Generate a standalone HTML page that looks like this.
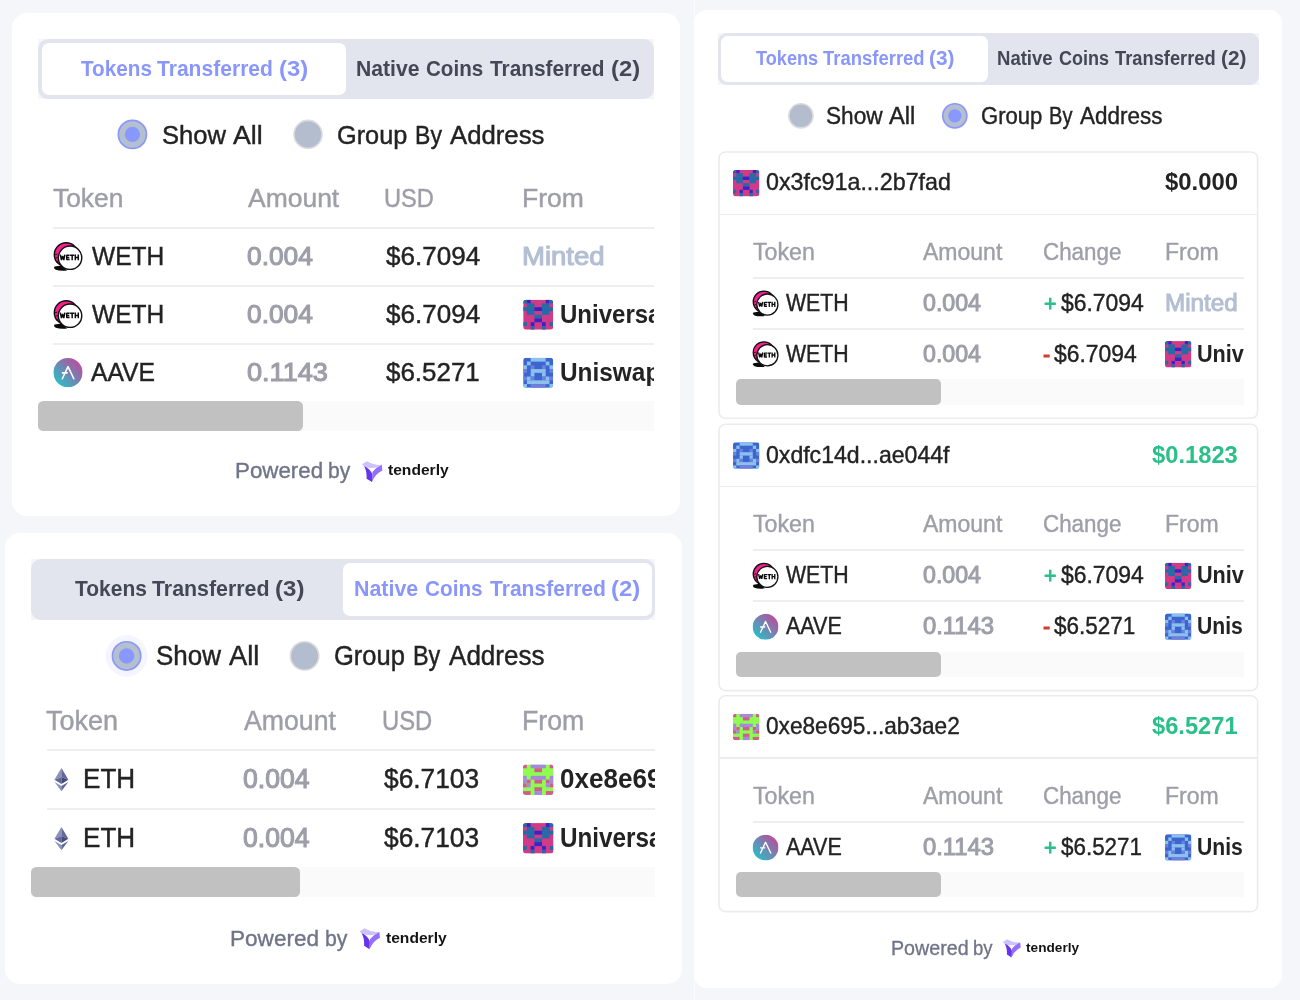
<!DOCTYPE html>
<html><head><meta charset="utf-8"><title>Transfers</title>
<style>
html,body{margin:0;padding:0}
body{width:1300px;height:1000px;background:#f4f6fa;position:relative;overflow:hidden;font-family:'Liberation Sans', sans-serif}
#root{position:absolute;left:0;top:0;width:1300px;height:1000px;overflow:hidden}
#root>div,#root>svg,.t,#txt>div{position:absolute}
#txt{left:0;top:0;width:1300px;height:1000px;will-change:transform}
.t{white-space:pre;transform-origin:0 0;display:block}
.clip{overflow:hidden}
</style></head>
<body>
<svg width="0" height="0" style="position:absolute"><defs>
<linearGradient id="aaveg" x1="0.15" y1="0.85" x2="0.85" y2="0.15"><stop offset="0" stop-color="#2ebac6"/><stop offset="1" stop-color="#b6509e"/></linearGradient>
<symbol id="weth" viewBox="0 0 1000 1000">
<path d="M165 765 Q125 805 195 845 Q310 885 480 862 L335 735 Z" fill="#0a0a0a"/>
<circle cx="455" cy="466" r="298" fill="#f5208b" stroke="#0d0d0d" stroke-width="34"/>
<path d="M172 470 L232 455 M182 560 L242 535 M212 650 L268 610" stroke="#0d0d0d" stroke-width="22" fill="none"/>
<circle cx="551" cy="542" r="293" fill="#fff" stroke="#111" stroke-width="36"/>
<path d="M308 466 L336 600 L365 500 L394 600 L422 466 M540 482 H468 V590 H540 M468 536 H532 M552 482 H655 M604 482 V608 M683 464 V608 M757 464 V608 M683 536 H757" stroke="#0b0b0b" stroke-width="37" fill="none" stroke-linejoin="bevel"/>
</symbol>
<symbol id="aave" viewBox="0 0 100 100">
<circle cx="50" cy="50" r="50" fill="url(#aaveg)"/>
<path d="M30.5 71 L50 29.5 L70 71 M31 51 L47 51" stroke="#fff" stroke-width="5.4" fill="none" stroke-linecap="round" stroke-linejoin="round"/>
</symbol>
<symbol id="eth" viewBox="0 0 1000 1000">
<path d="M510 228 L335 520 L510 450 Z" fill="#8a92b8"/>
<path d="M510 228 L685 520 L510 450 Z" fill="#62689a"/>
<path d="M335 520 L510 450 L510 625 Z" fill="#62689a"/>
<path d="M685 520 L510 450 L510 625 Z" fill="#454a7c"/>
<path d="M340 572 L510 672 L510 808 Z" fill="#8a92b8"/>
<path d="M682 572 L510 672 L510 808 Z" fill="#62689a"/>
</symbol>
<symbol id="tly" viewBox="0 0 1000 1000">
<path d="M135 245 L300 140 Q520 275 792 262 L640 345 Q430 405 210 305 Z" fill="#cdc2fd"/>
<path d="M205 300 Q410 385 482 585 L470 832 L290 722 Q305 480 205 300 Z" fill="#6633ee"/>
<path d="M796 262 L815 450 Q580 560 468 832 L484 500 Q600 350 796 262 Z" fill="#9370fc"/>
</symbol>
</defs></svg>
<div id="root">
<div style="left:12.00px;top:13.00px;width:668.00px;height:503.30px;background:#fff;border-radius:15px;"></div>
<div style="left:38.00px;top:39.00px;width:616.00px;height:59.70px;background:#f4f6fa;"></div>
<div style="left:38.00px;top:39.00px;width:616.00px;height:59.70px;background:#e2e5ed;border-radius:10px;"></div>
<div style="left:42.00px;top:43.00px;width:304.00px;height:52.00px;background:#fff;border-radius:7px;"></div>
<svg style="left:115px;top:117px" width="35" height="35"><g transform="translate(1.50 1.50)"><circle cx="15.9" cy="15.9" r="14.9" fill="#8a97fd"/><circle cx="15.9" cy="15.9" r="13.20" fill="#b4bfd0"/><circle cx="15.9" cy="15.9" r="7.67" fill="#8998fd"/></g></svg>
<svg style="left:291px;top:117px" width="34" height="35"><g transform="translate(1.20 1.60)"><circle cx="15.8" cy="15.8" r="14.8" fill="#dcdcde"/><circle cx="15.8" cy="15.8" r="13.20" fill="#b4bdce"/></g></svg>
<div style="left:53.00px;top:227.00px;width:601.00px;height:1.90px;background:#eeeeef;"></div>
<div style="left:53.00px;top:285.00px;width:601.00px;height:1.90px;background:#eeeeef;"></div>
<div style="left:53.00px;top:343.00px;width:601.00px;height:1.90px;background:#eeeeef;"></div>
<svg style="left:47px;top:235px" width="42" height="42"><g transform="translate(1.00 1.00)"><use href="#weth" width="40.00" height="40.00"/></g></svg>
<svg style="left:47px;top:293px" width="42" height="42"><g transform="translate(1.00 1.00)"><use href="#weth" width="40.00" height="40.00"/></g></svg>
<svg style="left:52px;top:357px" width="32" height="32"><g transform="translate(1.40 1.00)"><use href="#aave" width="29.20" height="29.20"/></g></svg>
<svg style="left:522px;top:298px" width="33" height="33"><g transform="translate(1.20 1.70)"><clipPath id="ic1"><rect width="8" height="8" rx="0.85"/></clipPath><g transform="scale(3.7500)" clip-path="url(#ic1)"><rect width="8" height="8" fill="#d13a86"/><rect x="0" y="0" width="1" height="1.02" fill="#246ca8"/><rect x="1" y="0" width="1" height="1.02" fill="#3a22c8"/><rect x="6" y="0" width="1" height="1.02" fill="#3a22c8"/><rect x="7" y="0" width="1" height="1.02" fill="#246ca8"/><rect x="1" y="1" width="2" height="1.02" fill="#246ca8"/><rect x="5" y="1" width="2" height="1.02" fill="#246ca8"/><rect x="0" y="2" width="3" height="1.02" fill="#246ca8"/><rect x="3" y="2" width="2" height="1.02" fill="#3a22c8"/><rect x="5" y="2" width="3" height="1.02" fill="#246ca8"/><rect x="1" y="3" width="2" height="1.02" fill="#246ca8"/><rect x="5" y="3" width="2" height="1.02" fill="#246ca8"/><rect x="3" y="4" width="2" height="1.02" fill="#246ca8"/><rect x="3" y="5" width="2" height="1.02" fill="#3a22c8"/><rect x="0" y="6" width="1" height="1.02" fill="#246ca8"/><rect x="2" y="6" width="1" height="1.02" fill="#3a22c8"/><rect x="5" y="6" width="1" height="1.02" fill="#3a22c8"/><rect x="7" y="6" width="1" height="1.02" fill="#246ca8"/><rect x="2" y="7" width="1" height="1.02" fill="#246ca8"/><rect x="5" y="7" width="1" height="1.02" fill="#246ca8"/></g></g></svg>
<svg style="left:522px;top:356px" width="33" height="33"><g transform="translate(1.20 1.80)"><clipPath id="ic2"><rect width="8" height="8" rx="0.85"/></clipPath><g transform="scale(3.7500)" clip-path="url(#ic2)"><rect width="8" height="8" fill="#3b66d2"/><rect x="2" y="0" width="4" height="1.02" fill="#8bc1ec"/><rect x="1" y="1" width="1" height="1.02" fill="#8bc1ec"/><rect x="6" y="1" width="1" height="1.02" fill="#8bc1ec"/><rect x="0" y="2" width="1" height="1.02" fill="#8bc1ec"/><rect x="2" y="2" width="1" height="1.02" fill="#6e7fdc"/><rect x="5" y="2" width="1" height="1.02" fill="#6e7fdc"/><rect x="7" y="2" width="1" height="1.02" fill="#8bc1ec"/><rect x="0" y="3" width="1" height="1.02" fill="#6e7fdc"/><rect x="2" y="3" width="4" height="1.02" fill="#8bc1ec"/><rect x="7" y="3" width="1" height="1.02" fill="#6e7fdc"/><rect x="2" y="4" width="1" height="1.02" fill="#8bc1ec"/><rect x="5" y="4" width="1" height="1.02" fill="#8bc1ec"/><rect x="0" y="5" width="1" height="1.02" fill="#6e7fdc"/><rect x="1" y="5" width="1" height="1.02" fill="#8bc1ec"/><rect x="2" y="5" width="1" height="1.02" fill="#6e7fdc"/><rect x="5" y="5" width="1" height="1.02" fill="#6e7fdc"/><rect x="6" y="5" width="1" height="1.02" fill="#8bc1ec"/><rect x="7" y="5" width="1" height="1.02" fill="#6e7fdc"/><rect x="1" y="6" width="6" height="1.02" fill="#8bc1ec"/><rect x="0" y="7" width="1" height="1.02" fill="#8bc1ec"/><rect x="2" y="7" width="4" height="1.02" fill="#6e7fdc"/><rect x="7" y="7" width="1" height="1.02" fill="#8bc1ec"/></g></g></svg>
<div style="left:38.00px;top:401.00px;width:616.00px;height:29.60px;background:#fafafa;"></div>
<div style="left:38.00px;top:401.00px;width:265.00px;height:29.60px;background:#c1c1c1;border-radius:5.5px;"></div>
<svg style="left:356px;top:456px" width="33" height="32"><g transform="translate(1.90 1.00)"><use href="#tly" width="30.00" height="30.00"/></g></svg>
<div style="left:5.00px;top:533.00px;width:677.00px;height:451.00px;background:#fff;border-radius:15px;"></div>
<div style="left:31.00px;top:559.00px;width:624.00px;height:61.00px;background:#f4f6fa;"></div>
<div style="left:31.00px;top:559.00px;width:624.00px;height:61.00px;background:#e2e5ed;border-radius:10px;"></div>
<div style="left:343.00px;top:562.70px;width:308.60px;height:53.70px;background:#fff;border-radius:7px;"></div>
<svg style="left:103px;top:633px" width="47" height="46"><g transform="translate(1.80 1.10)"><circle cx="21.8" cy="21.8" r="20.8" fill="#f4f5ff"/><circle cx="21.8" cy="21.8" r="15" fill="#8a97fd"/><circle cx="21.8" cy="21.8" r="13.30" fill="#b4bfd0"/><circle cx="21.8" cy="21.8" r="7.73" fill="#8998fd"/></g></svg>
<svg style="left:287px;top:638px" width="35" height="35"><g transform="translate(1.60 1.90)"><circle cx="16" cy="16" r="15" fill="#dcdcde"/><circle cx="16" cy="16" r="13.40" fill="#b4bdce"/></g></svg>
<div style="left:46.50px;top:749.00px;width:608.50px;height:1.90px;background:#eeeeef;"></div>
<div style="left:46.50px;top:808.30px;width:608.50px;height:1.90px;background:#eeeeef;"></div>
<svg style="left:40px;top:758px" width="42" height="42"><g transform="translate(1.00 1.00)"><use href="#eth" width="40.00" height="40.00"/></g></svg>
<svg style="left:40px;top:817px" width="42" height="42"><g transform="translate(1.00 1.00)"><use href="#eth" width="40.00" height="40.00"/></g></svg>
<svg style="left:522px;top:763px" width="33" height="33"><g transform="translate(1.00 1.40)"><clipPath id="ic3"><rect width="8" height="8" rx="0.85"/></clipPath><g transform="scale(3.8125)" clip-path="url(#ic3)"><rect width="8" height="8" fill="#8ffc50"/><rect x="0" y="0" width="1" height="1.02" fill="#cf5d8d"/><rect x="2" y="0" width="4" height="1.02" fill="#a688e0"/><rect x="7" y="0" width="1" height="1.02" fill="#cf5d8d"/><rect x="3" y="1" width="2" height="1.02" fill="#cf5d8d"/><rect x="0" y="3" width="1" height="1.02" fill="#a688e0"/><rect x="2" y="3" width="4" height="1.02" fill="#a688e0"/><rect x="7" y="3" width="1" height="1.02" fill="#a688e0"/><rect x="0" y="4" width="1" height="1.02" fill="#a688e0"/><rect x="1" y="4" width="1" height="1.02" fill="#cf5d8d"/><rect x="3" y="4" width="2" height="1.02" fill="#cf5d8d"/><rect x="6" y="4" width="1" height="1.02" fill="#cf5d8d"/><rect x="7" y="4" width="1" height="1.02" fill="#a688e0"/><rect x="0" y="5" width="1" height="1.02" fill="#cf5d8d"/><rect x="1" y="5" width="1" height="1.02" fill="#a688e0"/><rect x="6" y="5" width="1" height="1.02" fill="#a688e0"/><rect x="7" y="5" width="1" height="1.02" fill="#cf5d8d"/><rect x="3" y="6" width="2" height="1.02" fill="#cf5d8d"/><rect x="0" y="7" width="2" height="1.02" fill="#cf5d8d"/><rect x="3" y="7" width="2" height="1.02" fill="#a688e0"/><rect x="6" y="7" width="2" height="1.02" fill="#cf5d8d"/></g></g></svg>
<svg style="left:522px;top:822px" width="33" height="33"><g transform="translate(1.00 1.10)"><clipPath id="ic4"><rect width="8" height="8" rx="0.85"/></clipPath><g transform="scale(3.8125)" clip-path="url(#ic4)"><rect width="8" height="8" fill="#d13a86"/><rect x="0" y="0" width="1" height="1.02" fill="#246ca8"/><rect x="1" y="0" width="1" height="1.02" fill="#3a22c8"/><rect x="6" y="0" width="1" height="1.02" fill="#3a22c8"/><rect x="7" y="0" width="1" height="1.02" fill="#246ca8"/><rect x="1" y="1" width="2" height="1.02" fill="#246ca8"/><rect x="5" y="1" width="2" height="1.02" fill="#246ca8"/><rect x="0" y="2" width="3" height="1.02" fill="#246ca8"/><rect x="3" y="2" width="2" height="1.02" fill="#3a22c8"/><rect x="5" y="2" width="3" height="1.02" fill="#246ca8"/><rect x="1" y="3" width="2" height="1.02" fill="#246ca8"/><rect x="5" y="3" width="2" height="1.02" fill="#246ca8"/><rect x="3" y="4" width="2" height="1.02" fill="#246ca8"/><rect x="3" y="5" width="2" height="1.02" fill="#3a22c8"/><rect x="0" y="6" width="1" height="1.02" fill="#246ca8"/><rect x="2" y="6" width="1" height="1.02" fill="#3a22c8"/><rect x="5" y="6" width="1" height="1.02" fill="#3a22c8"/><rect x="7" y="6" width="1" height="1.02" fill="#246ca8"/><rect x="2" y="7" width="1" height="1.02" fill="#246ca8"/><rect x="5" y="7" width="1" height="1.02" fill="#246ca8"/></g></g></svg>
<div style="left:31.00px;top:866.80px;width:624.00px;height:30.20px;background:#fafafa;"></div>
<div style="left:31.00px;top:866.80px;width:269.00px;height:30.20px;background:#c1c1c1;border-radius:5.5px;"></div>
<svg style="left:354px;top:923px" width="33" height="33"><g transform="translate(1.38 1.08)"><use href="#tly" width="30.14" height="30.14"/></g></svg>
<div style="left:694.00px;top:0.00px;width:1.00px;height:1000.00px;background:#fafbfd;"></div>
<div style="left:694.30px;top:10.00px;width:587.50px;height:978.00px;background:#fff;border-radius:13px;"></div>
<div style="left:718.00px;top:33.00px;width:540.60px;height:52.00px;background:#f4f6fa;"></div>
<div style="left:718.00px;top:33.00px;width:540.60px;height:52.00px;background:#e2e5ed;border-radius:9px;"></div>
<div style="left:721.30px;top:36.20px;width:267.20px;height:45.60px;background:#fff;border-radius:6.5px;"></div>
<svg style="left:786px;top:100px" width="30" height="31"><g transform="translate(1.00 1.90)"><circle cx="13.9" cy="13.9" r="12.9" fill="#dcdcde"/><circle cx="13.9" cy="13.9" r="11.30" fill="#b4bdce"/></g></svg>
<svg style="left:939px;top:100px" width="31" height="31"><g transform="translate(1.90 1.90)"><circle cx="13.9" cy="13.9" r="12.9" fill="#8a97fd"/><circle cx="13.9" cy="13.9" r="11.20" fill="#b4bfd0"/><circle cx="13.9" cy="13.9" r="6.64" fill="#8998fd"/></g></svg>
<svg style="left:717px;top:150px" width="543" height="271"><g transform="translate(1.00 1.00)"><rect x="1" y="1" width="538.6" height="266.30" rx="6.5" fill="#fff" stroke="#ececee" stroke-width="1.6"/></g></svg>
<svg style="left:732px;top:169px" width="29" height="29"><g transform="translate(1.00 1.00)"><clipPath id="ic5"><rect width="8" height="8" rx="0.85"/></clipPath><g transform="scale(3.3000)" clip-path="url(#ic5)"><rect width="8" height="8" fill="#d13a86"/><rect x="0" y="0" width="1" height="1.02" fill="#246ca8"/><rect x="1" y="0" width="1" height="1.02" fill="#3a22c8"/><rect x="6" y="0" width="1" height="1.02" fill="#3a22c8"/><rect x="7" y="0" width="1" height="1.02" fill="#246ca8"/><rect x="1" y="1" width="2" height="1.02" fill="#246ca8"/><rect x="5" y="1" width="2" height="1.02" fill="#246ca8"/><rect x="0" y="2" width="3" height="1.02" fill="#246ca8"/><rect x="3" y="2" width="2" height="1.02" fill="#3a22c8"/><rect x="5" y="2" width="3" height="1.02" fill="#246ca8"/><rect x="1" y="3" width="2" height="1.02" fill="#246ca8"/><rect x="5" y="3" width="2" height="1.02" fill="#246ca8"/><rect x="3" y="4" width="2" height="1.02" fill="#246ca8"/><rect x="3" y="5" width="2" height="1.02" fill="#3a22c8"/><rect x="0" y="6" width="1" height="1.02" fill="#246ca8"/><rect x="2" y="6" width="1" height="1.02" fill="#3a22c8"/><rect x="5" y="6" width="1" height="1.02" fill="#3a22c8"/><rect x="7" y="6" width="1" height="1.02" fill="#246ca8"/><rect x="2" y="7" width="1" height="1.02" fill="#246ca8"/><rect x="5" y="7" width="1" height="1.02" fill="#246ca8"/></g></g></svg>
<div style="left:720.00px;top:213.60px;width:536.60px;height:1.50px;background:#ececee;"></div>
<div style="left:752.60px;top:277.00px;width:491.40px;height:1.90px;background:#eeeeef;"></div>
<svg style="left:746px;top:284px" width="39" height="39"><g transform="translate(1.56 1.04)"><use href="#weth" width="35.97" height="35.97"/></g></svg>
<div style="left:752.60px;top:328.00px;width:491.40px;height:1.90px;background:#eeeeef;"></div>
<svg style="left:746px;top:334px" width="39" height="39"><g transform="translate(1.56 1.74)"><use href="#weth" width="35.97" height="35.97"/></g></svg>
<svg style="left:1164px;top:340px" width="29" height="29"><g transform="translate(1.00 1.10)"><clipPath id="ic6"><rect width="8" height="8" rx="0.85"/></clipPath><g transform="scale(3.3000)" clip-path="url(#ic6)"><rect width="8" height="8" fill="#d13a86"/><rect x="0" y="0" width="1" height="1.02" fill="#246ca8"/><rect x="1" y="0" width="1" height="1.02" fill="#3a22c8"/><rect x="6" y="0" width="1" height="1.02" fill="#3a22c8"/><rect x="7" y="0" width="1" height="1.02" fill="#246ca8"/><rect x="1" y="1" width="2" height="1.02" fill="#246ca8"/><rect x="5" y="1" width="2" height="1.02" fill="#246ca8"/><rect x="0" y="2" width="3" height="1.02" fill="#246ca8"/><rect x="3" y="2" width="2" height="1.02" fill="#3a22c8"/><rect x="5" y="2" width="3" height="1.02" fill="#246ca8"/><rect x="1" y="3" width="2" height="1.02" fill="#246ca8"/><rect x="5" y="3" width="2" height="1.02" fill="#246ca8"/><rect x="3" y="4" width="2" height="1.02" fill="#246ca8"/><rect x="3" y="5" width="2" height="1.02" fill="#3a22c8"/><rect x="0" y="6" width="1" height="1.02" fill="#246ca8"/><rect x="2" y="6" width="1" height="1.02" fill="#3a22c8"/><rect x="5" y="6" width="1" height="1.02" fill="#3a22c8"/><rect x="7" y="6" width="1" height="1.02" fill="#246ca8"/><rect x="2" y="7" width="1" height="1.02" fill="#246ca8"/><rect x="5" y="7" width="1" height="1.02" fill="#246ca8"/></g></g></svg>
<div style="left:736.20px;top:379.20px;width:507.80px;height:25.60px;background:#fafafa;"></div>
<div style="left:736.20px;top:379.20px;width:205.00px;height:25.60px;background:#c1c1c1;border-radius:5px;"></div>
<svg style="left:717px;top:422px" width="543" height="271"><g transform="translate(1.00 1.30)"><rect x="1" y="1" width="538.6" height="266.30" rx="6.5" fill="#fff" stroke="#ececee" stroke-width="1.6"/></g></svg>
<svg style="left:732px;top:441px" width="29" height="29"><g transform="translate(1.00 1.30)"><clipPath id="ic7"><rect width="8" height="8" rx="0.85"/></clipPath><g transform="scale(3.3000)" clip-path="url(#ic7)"><rect width="8" height="8" fill="#3b66d2"/><rect x="2" y="0" width="4" height="1.02" fill="#8bc1ec"/><rect x="1" y="1" width="1" height="1.02" fill="#8bc1ec"/><rect x="6" y="1" width="1" height="1.02" fill="#8bc1ec"/><rect x="0" y="2" width="1" height="1.02" fill="#8bc1ec"/><rect x="2" y="2" width="1" height="1.02" fill="#6e7fdc"/><rect x="5" y="2" width="1" height="1.02" fill="#6e7fdc"/><rect x="7" y="2" width="1" height="1.02" fill="#8bc1ec"/><rect x="0" y="3" width="1" height="1.02" fill="#6e7fdc"/><rect x="2" y="3" width="4" height="1.02" fill="#8bc1ec"/><rect x="7" y="3" width="1" height="1.02" fill="#6e7fdc"/><rect x="2" y="4" width="1" height="1.02" fill="#8bc1ec"/><rect x="5" y="4" width="1" height="1.02" fill="#8bc1ec"/><rect x="0" y="5" width="1" height="1.02" fill="#6e7fdc"/><rect x="1" y="5" width="1" height="1.02" fill="#8bc1ec"/><rect x="2" y="5" width="1" height="1.02" fill="#6e7fdc"/><rect x="5" y="5" width="1" height="1.02" fill="#6e7fdc"/><rect x="6" y="5" width="1" height="1.02" fill="#8bc1ec"/><rect x="7" y="5" width="1" height="1.02" fill="#6e7fdc"/><rect x="1" y="6" width="6" height="1.02" fill="#8bc1ec"/><rect x="0" y="7" width="1" height="1.02" fill="#8bc1ec"/><rect x="2" y="7" width="4" height="1.02" fill="#6e7fdc"/><rect x="7" y="7" width="1" height="1.02" fill="#8bc1ec"/></g></g></svg>
<div style="left:720.00px;top:485.90px;width:536.60px;height:1.50px;background:#ececee;"></div>
<div style="left:752.60px;top:549.30px;width:491.40px;height:1.90px;background:#eeeeef;"></div>
<svg style="left:746px;top:556px" width="39" height="39"><g transform="translate(1.56 1.34)"><use href="#weth" width="35.97" height="35.97"/></g></svg>
<svg style="left:1164px;top:561px" width="29" height="30"><g transform="translate(1.00 1.70)"><clipPath id="ic8"><rect width="8" height="8" rx="0.85"/></clipPath><g transform="scale(3.3000)" clip-path="url(#ic8)"><rect width="8" height="8" fill="#d13a86"/><rect x="0" y="0" width="1" height="1.02" fill="#246ca8"/><rect x="1" y="0" width="1" height="1.02" fill="#3a22c8"/><rect x="6" y="0" width="1" height="1.02" fill="#3a22c8"/><rect x="7" y="0" width="1" height="1.02" fill="#246ca8"/><rect x="1" y="1" width="2" height="1.02" fill="#246ca8"/><rect x="5" y="1" width="2" height="1.02" fill="#246ca8"/><rect x="0" y="2" width="3" height="1.02" fill="#246ca8"/><rect x="3" y="2" width="2" height="1.02" fill="#3a22c8"/><rect x="5" y="2" width="3" height="1.02" fill="#246ca8"/><rect x="1" y="3" width="2" height="1.02" fill="#246ca8"/><rect x="5" y="3" width="2" height="1.02" fill="#246ca8"/><rect x="3" y="4" width="2" height="1.02" fill="#246ca8"/><rect x="3" y="5" width="2" height="1.02" fill="#3a22c8"/><rect x="0" y="6" width="1" height="1.02" fill="#246ca8"/><rect x="2" y="6" width="1" height="1.02" fill="#3a22c8"/><rect x="5" y="6" width="1" height="1.02" fill="#3a22c8"/><rect x="7" y="6" width="1" height="1.02" fill="#246ca8"/><rect x="2" y="7" width="1" height="1.02" fill="#246ca8"/><rect x="5" y="7" width="1" height="1.02" fill="#246ca8"/></g></g></svg>
<div style="left:752.60px;top:600.30px;width:491.40px;height:1.90px;background:#eeeeef;"></div>
<svg style="left:751px;top:612px" width="29" height="29"><g transform="translate(1.60 1.85)"><use href="#aave" width="25.90" height="25.90"/></g></svg>
<svg style="left:1164px;top:612px" width="29" height="29"><g transform="translate(1.00 1.40)"><clipPath id="ic9"><rect width="8" height="8" rx="0.85"/></clipPath><g transform="scale(3.3000)" clip-path="url(#ic9)"><rect width="8" height="8" fill="#3b66d2"/><rect x="2" y="0" width="4" height="1.02" fill="#8bc1ec"/><rect x="1" y="1" width="1" height="1.02" fill="#8bc1ec"/><rect x="6" y="1" width="1" height="1.02" fill="#8bc1ec"/><rect x="0" y="2" width="1" height="1.02" fill="#8bc1ec"/><rect x="2" y="2" width="1" height="1.02" fill="#6e7fdc"/><rect x="5" y="2" width="1" height="1.02" fill="#6e7fdc"/><rect x="7" y="2" width="1" height="1.02" fill="#8bc1ec"/><rect x="0" y="3" width="1" height="1.02" fill="#6e7fdc"/><rect x="2" y="3" width="4" height="1.02" fill="#8bc1ec"/><rect x="7" y="3" width="1" height="1.02" fill="#6e7fdc"/><rect x="2" y="4" width="1" height="1.02" fill="#8bc1ec"/><rect x="5" y="4" width="1" height="1.02" fill="#8bc1ec"/><rect x="0" y="5" width="1" height="1.02" fill="#6e7fdc"/><rect x="1" y="5" width="1" height="1.02" fill="#8bc1ec"/><rect x="2" y="5" width="1" height="1.02" fill="#6e7fdc"/><rect x="5" y="5" width="1" height="1.02" fill="#6e7fdc"/><rect x="6" y="5" width="1" height="1.02" fill="#8bc1ec"/><rect x="7" y="5" width="1" height="1.02" fill="#6e7fdc"/><rect x="1" y="6" width="6" height="1.02" fill="#8bc1ec"/><rect x="0" y="7" width="1" height="1.02" fill="#8bc1ec"/><rect x="2" y="7" width="4" height="1.02" fill="#6e7fdc"/><rect x="7" y="7" width="1" height="1.02" fill="#8bc1ec"/></g></g></svg>
<div style="left:736.20px;top:651.50px;width:507.80px;height:25.60px;background:#fafafa;"></div>
<div style="left:736.20px;top:651.50px;width:205.00px;height:25.60px;background:#c1c1c1;border-radius:5px;"></div>
<svg style="left:717px;top:693px" width="543" height="221"><g transform="translate(1.00 1.80)"><rect x="1" y="1" width="538.6" height="215.80" rx="6.5" fill="#fff" stroke="#ececee" stroke-width="1.6"/></g></svg>
<svg style="left:732px;top:712px" width="29" height="30"><g transform="translate(1.00 1.80)"><clipPath id="ic10"><rect width="8" height="8" rx="0.85"/></clipPath><g transform="scale(3.3000)" clip-path="url(#ic10)"><rect width="8" height="8" fill="#8ffc50"/><rect x="0" y="0" width="1" height="1.02" fill="#cf5d8d"/><rect x="2" y="0" width="4" height="1.02" fill="#a688e0"/><rect x="7" y="0" width="1" height="1.02" fill="#cf5d8d"/><rect x="3" y="1" width="2" height="1.02" fill="#cf5d8d"/><rect x="0" y="3" width="1" height="1.02" fill="#a688e0"/><rect x="2" y="3" width="4" height="1.02" fill="#a688e0"/><rect x="7" y="3" width="1" height="1.02" fill="#a688e0"/><rect x="0" y="4" width="1" height="1.02" fill="#a688e0"/><rect x="1" y="4" width="1" height="1.02" fill="#cf5d8d"/><rect x="3" y="4" width="2" height="1.02" fill="#cf5d8d"/><rect x="6" y="4" width="1" height="1.02" fill="#cf5d8d"/><rect x="7" y="4" width="1" height="1.02" fill="#a688e0"/><rect x="0" y="5" width="1" height="1.02" fill="#cf5d8d"/><rect x="1" y="5" width="1" height="1.02" fill="#a688e0"/><rect x="6" y="5" width="1" height="1.02" fill="#a688e0"/><rect x="7" y="5" width="1" height="1.02" fill="#cf5d8d"/><rect x="3" y="6" width="2" height="1.02" fill="#cf5d8d"/><rect x="0" y="7" width="2" height="1.02" fill="#cf5d8d"/><rect x="3" y="7" width="2" height="1.02" fill="#a688e0"/><rect x="6" y="7" width="2" height="1.02" fill="#cf5d8d"/></g></g></svg>
<div style="left:720.00px;top:757.40px;width:536.60px;height:1.50px;background:#ececee;"></div>
<div style="left:752.60px;top:820.80px;width:491.40px;height:1.90px;background:#eeeeef;"></div>
<svg style="left:751px;top:833px" width="29" height="29"><g transform="translate(1.60 1.65)"><use href="#aave" width="25.90" height="25.90"/></g></svg>
<svg style="left:1164px;top:833px" width="29" height="29"><g transform="translate(1.00 1.20)"><clipPath id="ic11"><rect width="8" height="8" rx="0.85"/></clipPath><g transform="scale(3.3000)" clip-path="url(#ic11)"><rect width="8" height="8" fill="#3b66d2"/><rect x="2" y="0" width="4" height="1.02" fill="#8bc1ec"/><rect x="1" y="1" width="1" height="1.02" fill="#8bc1ec"/><rect x="6" y="1" width="1" height="1.02" fill="#8bc1ec"/><rect x="0" y="2" width="1" height="1.02" fill="#8bc1ec"/><rect x="2" y="2" width="1" height="1.02" fill="#6e7fdc"/><rect x="5" y="2" width="1" height="1.02" fill="#6e7fdc"/><rect x="7" y="2" width="1" height="1.02" fill="#8bc1ec"/><rect x="0" y="3" width="1" height="1.02" fill="#6e7fdc"/><rect x="2" y="3" width="4" height="1.02" fill="#8bc1ec"/><rect x="7" y="3" width="1" height="1.02" fill="#6e7fdc"/><rect x="2" y="4" width="1" height="1.02" fill="#8bc1ec"/><rect x="5" y="4" width="1" height="1.02" fill="#8bc1ec"/><rect x="0" y="5" width="1" height="1.02" fill="#6e7fdc"/><rect x="1" y="5" width="1" height="1.02" fill="#8bc1ec"/><rect x="2" y="5" width="1" height="1.02" fill="#6e7fdc"/><rect x="5" y="5" width="1" height="1.02" fill="#6e7fdc"/><rect x="6" y="5" width="1" height="1.02" fill="#8bc1ec"/><rect x="7" y="5" width="1" height="1.02" fill="#6e7fdc"/><rect x="1" y="6" width="6" height="1.02" fill="#8bc1ec"/><rect x="0" y="7" width="1" height="1.02" fill="#8bc1ec"/><rect x="2" y="7" width="4" height="1.02" fill="#6e7fdc"/><rect x="7" y="7" width="1" height="1.02" fill="#8bc1ec"/></g></g></svg>
<div style="left:736.20px;top:871.50px;width:507.80px;height:25.60px;background:#fafafa;"></div>
<div style="left:736.20px;top:871.50px;width:205.00px;height:25.60px;background:#c1c1c1;border-radius:5px;"></div>
<svg style="left:998px;top:934px" width="29" height="29"><g transform="translate(1.30 1.62)"><use href="#tly" width="26.25" height="26.25"/></g></svg>
<div id="txt">
<span class="t" style="left:81.01px;top:54px;font:bold 22.3px/29px 'Liberation Sans', sans-serif;color:#8996fb;transform:scaleX(0.9283);">Tokens</span>
<span class="t" style="left:157.30px;top:54px;font:bold 22.3px/29px 'Liberation Sans', sans-serif;color:#8996fb;transform:scaleX(0.9448);">Transferred</span>
<span class="t" style="left:278.83px;top:54px;font:bold 22.3px/29px 'Liberation Sans', sans-serif;color:#8996fb;transform:scaleX(1.0707);">(3)</span>
<span class="t" style="left:356.15px;top:54px;font:bold 22.3px/29px 'Liberation Sans', sans-serif;color:#434756;transform:scaleX(0.9481);">Native</span>
<span class="t" style="left:426.18px;top:54px;font:bold 22.3px/29px 'Liberation Sans', sans-serif;color:#434756;transform:scaleX(0.9233);">Coins</span>
<span class="t" style="left:490.40px;top:54px;font:bold 22.3px/29px 'Liberation Sans', sans-serif;color:#434756;transform:scaleX(0.9340);">Transferred</span>
<span class="t" style="left:610.53px;top:54px;font:bold 22.3px/29px 'Liberation Sans', sans-serif;color:#434756;transform:scaleX(1.0668);">(2)</span>
<span class="t" style="left:161.77px;top:118px;font:normal 26.6px/35px 'Liberation Sans', sans-serif;color:#232324;transform:scaleX(0.9631);-webkit-text-stroke:0.44px #232324;">Show</span>
<span class="t" style="left:232.98px;top:118px;font:normal 26.6px/35px 'Liberation Sans', sans-serif;color:#232324;transform:scaleX(1.0035);-webkit-text-stroke:0.44px #232324;">All</span>
<span class="t" style="left:336.81px;top:118px;font:normal 26.6px/35px 'Liberation Sans', sans-serif;color:#232324;transform:scaleX(0.9514);-webkit-text-stroke:0.44px #232324;">Group</span>
<span class="t" style="left:414.57px;top:118px;font:normal 26.6px/35px 'Liberation Sans', sans-serif;color:#232324;transform:scaleX(0.8674);-webkit-text-stroke:0.44px #232324;">By</span>
<span class="t" style="left:450.48px;top:118px;font:normal 26.6px/35px 'Liberation Sans', sans-serif;color:#232324;transform:scaleX(0.9674);-webkit-text-stroke:0.44px #232324;">Address</span>
<span class="t" style="left:53.11px;top:181px;font:normal 26.6px/35px 'Liberation Sans', sans-serif;color:#9e9ea9;transform:scaleX(0.9906);-webkit-text-stroke:0.44px #9e9ea9;">Token</span>
<span class="t" style="left:247.58px;top:181px;font:normal 26.6px/35px 'Liberation Sans', sans-serif;color:#9e9ea9;transform:scaleX(0.9952);-webkit-text-stroke:0.44px #9e9ea9;">Amount</span>
<span class="t" style="left:384.48px;top:181px;font:normal 26.6px/35px 'Liberation Sans', sans-serif;color:#9e9ea9;transform:scaleX(0.8875);-webkit-text-stroke:0.44px #9e9ea9;">USD</span>
<span class="t" style="left:522.01px;top:181px;font:normal 26.6px/35px 'Liberation Sans', sans-serif;color:#9e9ea9;transform:scaleX(0.9965);-webkit-text-stroke:0.44px #9e9ea9;">From</span>
<span class="t" style="left:91.56px;top:239px;font:normal 26.6px/35px 'Liberation Sans', sans-serif;color:#232324;transform:scaleX(0.9214);-webkit-text-stroke:0.44px #232324;">WETH</span>
<span class="t" style="left:247.19px;top:239px;font:normal 26.6px/35px 'Liberation Sans', sans-serif;color:#9e9ea9;transform:scaleX(0.9894);-webkit-text-stroke:1.13px #9e9ea9;">0.004</span>
<span class="t" style="left:385.73px;top:239px;font:normal 26.6px/35px 'Liberation Sans', sans-serif;color:#232324;transform:scaleX(0.9809);-webkit-text-stroke:0.44px #232324;">$6.7094</span>
<span class="t" style="left:91.56px;top:297px;font:normal 26.6px/35px 'Liberation Sans', sans-serif;color:#232324;transform:scaleX(0.9214);-webkit-text-stroke:0.44px #232324;">WETH</span>
<span class="t" style="left:247.19px;top:297px;font:normal 26.6px/35px 'Liberation Sans', sans-serif;color:#9e9ea9;transform:scaleX(0.9894);-webkit-text-stroke:1.13px #9e9ea9;">0.004</span>
<span class="t" style="left:385.73px;top:297px;font:normal 26.6px/35px 'Liberation Sans', sans-serif;color:#232324;transform:scaleX(0.9809);-webkit-text-stroke:0.44px #232324;">$6.7094</span>
<span class="t" style="left:90.98px;top:355px;font:normal 26.6px/35px 'Liberation Sans', sans-serif;color:#232324;transform:scaleX(0.9273);-webkit-text-stroke:0.44px #232324;">AAVE</span>
<span class="t" style="left:247.37px;top:355px;font:normal 26.6px/35px 'Liberation Sans', sans-serif;color:#9e9ea9;transform:scaleX(1.0200);-webkit-text-stroke:1.13px #9e9ea9;">0.1143</span>
<span class="t" style="left:385.73px;top:355px;font:normal 26.6px/35px 'Liberation Sans', sans-serif;color:#232324;transform:scaleX(0.9753);-webkit-text-stroke:0.44px #232324;">$6.5271</span>
<span class="t" style="left:522.37px;top:239px;font:normal 26.6px/35px 'Liberation Sans', sans-serif;color:#b4bfd3;transform:scaleX(1.0355);-webkit-text-stroke:1.13px #b4bfd3;">Minted</span>
<div class="clip" style="left:558.60px;top:297px;width:95.40px;height:35px"><span class="t" style="left:1.58px;top:0;font:bold 26.6px/35px 'Liberation Sans', sans-serif;color:#232324;transform:scaleX(0.9030);">Universal Router</span></div>
<div class="clip" style="left:558.60px;top:355px;width:95.40px;height:35px"><span class="t" style="left:1.56px;top:0;font:bold 26.6px/35px 'Liberation Sans', sans-serif;color:#232324;transform:scaleX(0.9172);">Uniswap V3: AAVE</span></div>
<span class="t" style="left:234.87px;top:456px;font:normal 22.2px/29px 'Liberation Sans', sans-serif;color:#6f7488;transform:scaleX(1.0059);-webkit-text-stroke:0.37px #6f7488;">Powered</span>
<span class="t" style="left:328.16px;top:456px;font:normal 22.2px/29px 'Liberation Sans', sans-serif;color:#6f7488;transform:scaleX(0.9499);-webkit-text-stroke:0.37px #6f7488;">by</span>
<span class="t" style="left:387.86px;top:461px;font:bold 14.1px/18px 'Liberation Sans', sans-serif;color:#141414;transform:scaleX(1.1072);">tenderly</span>
<span class="t" style="left:74.71px;top:573px;font:bold 22.7px/30px 'Liberation Sans', sans-serif;color:#434756;transform:scaleX(0.9245);">Tokens</span>
<span class="t" style="left:152.09px;top:573px;font:bold 22.7px/30px 'Liberation Sans', sans-serif;color:#434756;transform:scaleX(0.9411);">Transferred</span>
<span class="t" style="left:275.36px;top:573px;font:bold 22.7px/30px 'Liberation Sans', sans-serif;color:#434756;transform:scaleX(1.0601);">(3)</span>
<span class="t" style="left:353.62px;top:573px;font:bold 22.7px/30px 'Liberation Sans', sans-serif;color:#8996fb;transform:scaleX(0.9429);">Native</span>
<span class="t" style="left:424.53px;top:573px;font:bold 22.7px/30px 'Liberation Sans', sans-serif;color:#8996fb;transform:scaleX(0.9141);">Coins</span>
<span class="t" style="left:489.52px;top:573px;font:bold 22.7px/30px 'Liberation Sans', sans-serif;color:#8996fb;transform:scaleX(0.9285);">Transferred</span>
<span class="t" style="left:611.12px;top:573px;font:bold 22.7px/30px 'Liberation Sans', sans-serif;color:#8996fb;transform:scaleX(1.0539);">(2)</span>
<span class="t" style="left:156.24px;top:638px;font:normal 27.1px/35px 'Liberation Sans', sans-serif;color:#232324;transform:scaleX(0.9576);-webkit-text-stroke:0.45px #232324;">Show</span>
<span class="t" style="left:228.57px;top:638px;font:normal 27.1px/35px 'Liberation Sans', sans-serif;color:#232324;transform:scaleX(1.0092);-webkit-text-stroke:0.45px #232324;">All</span>
<span class="t" style="left:334.02px;top:638px;font:normal 27.1px/35px 'Liberation Sans', sans-serif;color:#232324;transform:scaleX(0.9417);-webkit-text-stroke:0.45px #232324;">Group</span>
<span class="t" style="left:412.75px;top:638px;font:normal 27.1px/35px 'Liberation Sans', sans-serif;color:#232324;transform:scaleX(0.8644);-webkit-text-stroke:0.45px #232324;">By</span>
<span class="t" style="left:449.10px;top:638px;font:normal 27.1px/35px 'Liberation Sans', sans-serif;color:#232324;transform:scaleX(0.9617);-webkit-text-stroke:0.45px #232324;">Address</span>
<span class="t" style="left:46.30px;top:703px;font:normal 27.1px/35px 'Liberation Sans', sans-serif;color:#9e9ea9;transform:scaleX(0.9968);-webkit-text-stroke:0.45px #9e9ea9;">Token</span>
<span class="t" style="left:243.58px;top:703px;font:normal 27.1px/35px 'Liberation Sans', sans-serif;color:#9e9ea9;transform:scaleX(0.9840);-webkit-text-stroke:0.45px #9e9ea9;">Amount</span>
<span class="t" style="left:382.46px;top:703px;font:normal 27.1px/35px 'Liberation Sans', sans-serif;color:#9e9ea9;transform:scaleX(0.8782);-webkit-text-stroke:0.45px #9e9ea9;">USD</span>
<span class="t" style="left:522.02px;top:703px;font:normal 27.1px/35px 'Liberation Sans', sans-serif;color:#9e9ea9;transform:scaleX(0.9850);-webkit-text-stroke:0.45px #9e9ea9;">From</span>
<span class="t" style="left:83.06px;top:761px;font:normal 27.1px/35px 'Liberation Sans', sans-serif;color:#232324;transform:scaleX(0.9621);-webkit-text-stroke:0.45px #232324;">ETH</span>
<span class="t" style="left:243.19px;top:761px;font:normal 27.1px/35px 'Liberation Sans', sans-serif;color:#9e9ea9;transform:scaleX(0.9792);-webkit-text-stroke:1.15px #9e9ea9;">0.004</span>
<span class="t" style="left:383.89px;top:761px;font:normal 27.1px/35px 'Liberation Sans', sans-serif;color:#232324;transform:scaleX(0.9712);-webkit-text-stroke:0.45px #232324;">$6.7103</span>
<span class="t" style="left:83.06px;top:820px;font:normal 27.1px/35px 'Liberation Sans', sans-serif;color:#232324;transform:scaleX(0.9621);-webkit-text-stroke:0.45px #232324;">ETH</span>
<span class="t" style="left:243.19px;top:820px;font:normal 27.1px/35px 'Liberation Sans', sans-serif;color:#9e9ea9;transform:scaleX(0.9792);-webkit-text-stroke:1.15px #9e9ea9;">0.004</span>
<span class="t" style="left:383.89px;top:820px;font:normal 27.1px/35px 'Liberation Sans', sans-serif;color:#232324;transform:scaleX(0.9712);-webkit-text-stroke:0.45px #232324;">$6.7103</span>
<div class="clip" style="left:558.50px;top:761px;width:96.50px;height:35px"><span class="t" style="left:1.98px;top:0;font:bold 27.1px/35px 'Liberation Sans', sans-serif;color:#232324;transform:scaleX(0.9613);">0xe8e695...ab3ae2</span></div>
<div class="clip" style="left:558.60px;top:820px;width:96.40px;height:35px"><span class="t" style="left:1.56px;top:0;font:bold 27.1px/35px 'Liberation Sans', sans-serif;color:#232324;transform:scaleX(0.8952);">Universal Router</span></div>
<span class="t" style="left:230.42px;top:924px;font:normal 22.4px/29px 'Liberation Sans', sans-serif;color:#6f7488;transform:scaleX(1.0077);-webkit-text-stroke:0.37px #6f7488;">Powered</span>
<span class="t" style="left:324.82px;top:924px;font:normal 22.4px/29px 'Liberation Sans', sans-serif;color:#6f7488;transform:scaleX(0.9478);-webkit-text-stroke:0.37px #6f7488;">by</span>
<span class="t" style="left:386.06px;top:929px;font:bold 14.1px/18px 'Liberation Sans', sans-serif;color:#141414;transform:scaleX(1.1072);">tenderly</span>
<span class="t" style="left:755.84px;top:46px;font:bold 19.6px/25px 'Liberation Sans', sans-serif;color:#8996fb;transform:scaleX(0.9260);">Tokens</span>
<span class="t" style="left:822.74px;top:46px;font:bold 19.6px/25px 'Liberation Sans', sans-serif;color:#8996fb;transform:scaleX(0.9428);">Transferred</span>
<span class="t" style="left:929.25px;top:46px;font:bold 19.6px/25px 'Liberation Sans', sans-serif;color:#8996fb;transform:scaleX(1.0618);">(3)</span>
<span class="t" style="left:997.31px;top:46px;font:bold 19.6px/25px 'Liberation Sans', sans-serif;color:#434756;transform:scaleX(0.9460);">Native</span>
<span class="t" style="left:1058.95px;top:46px;font:bold 19.6px/25px 'Liberation Sans', sans-serif;color:#434756;transform:scaleX(0.9189);">Coins</span>
<span class="t" style="left:1115.28px;top:46px;font:bold 19.6px/25px 'Liberation Sans', sans-serif;color:#434756;transform:scaleX(0.9340);">Transferred</span>
<span class="t" style="left:1220.78px;top:46px;font:bold 19.6px/25px 'Liberation Sans', sans-serif;color:#434756;transform:scaleX(1.0600);">(2)</span>
<span class="t" style="left:826.30px;top:101px;font:normal 23.3px/30px 'Liberation Sans', sans-serif;color:#232324;transform:scaleX(0.9723);-webkit-text-stroke:0.39px #232324;">Show</span>
<span class="t" style="left:889.40px;top:101px;font:normal 23.3px/30px 'Liberation Sans', sans-serif;color:#232324;transform:scaleX(1.0172);-webkit-text-stroke:0.39px #232324;">All</span>
<span class="t" style="left:981.02px;top:101px;font:normal 23.3px/30px 'Liberation Sans', sans-serif;color:#232324;transform:scaleX(0.9477);-webkit-text-stroke:0.39px #232324;">Group</span>
<span class="t" style="left:1049.10px;top:101px;font:normal 23.3px/30px 'Liberation Sans', sans-serif;color:#232324;transform:scaleX(0.8616);-webkit-text-stroke:0.39px #232324;">By</span>
<span class="t" style="left:1080.32px;top:101px;font:normal 23.3px/30px 'Liberation Sans', sans-serif;color:#232324;transform:scaleX(0.9650);-webkit-text-stroke:0.39px #232324;">Address</span>
<span class="t" style="left:765.86px;top:167px;font:normal 23.6px/31px 'Liberation Sans', sans-serif;color:#232324;transform:scaleX(0.9859);-webkit-text-stroke:0.39px #232324;">0x3fc91a...2b7fad</span>
<span class="t" style="left:1165.19px;top:167px;font:bold 23.5px/31px 'Liberation Sans', sans-serif;color:#232324;transform:scaleX(1.0160);">$0.000</span>
<span class="t" style="left:752.57px;top:237px;font:normal 23.3px/30px 'Liberation Sans', sans-serif;color:#9e9ea9;transform:scaleX(0.9957);-webkit-text-stroke:0.39px #9e9ea9;">Token</span>
<span class="t" style="left:923.36px;top:237px;font:normal 23.3px/30px 'Liberation Sans', sans-serif;color:#9e9ea9;transform:scaleX(0.9878);-webkit-text-stroke:0.39px #9e9ea9;">Amount</span>
<span class="t" style="left:1043.48px;top:237px;font:normal 23.3px/30px 'Liberation Sans', sans-serif;color:#9e9ea9;transform:scaleX(0.9599);-webkit-text-stroke:0.39px #9e9ea9;">Change</span>
<span class="t" style="left:1164.62px;top:237px;font:normal 23.3px/30px 'Liberation Sans', sans-serif;color:#9e9ea9;transform:scaleX(0.9904);-webkit-text-stroke:0.39px #9e9ea9;">From</span>
<span class="t" style="left:786.45px;top:288px;font:normal 23.3px/30px 'Liberation Sans', sans-serif;color:#232324;transform:scaleX(0.9144);-webkit-text-stroke:0.39px #232324;">WETH</span>
<span class="t" style="left:923.07px;top:288px;font:normal 23.3px/30px 'Liberation Sans', sans-serif;color:#9e9ea9;transform:scaleX(0.9949);-webkit-text-stroke:0.99px #9e9ea9;">0.004</span>
<span class="t" style="left:1043.99px;top:290px;font:normal 21.8px/28px 'Liberation Sans', sans-serif;color:#2bbf8a;transform:scaleX(0.9757);-webkit-text-stroke:0.93px #2bbf8a;">+</span>
<span class="t" style="left:1060.96px;top:288px;font:normal 23.3px/30px 'Liberation Sans', sans-serif;color:#232324;transform:scaleX(0.9839);-webkit-text-stroke:0.39px #232324;">$6.7094</span>
<span class="t" style="left:1164.83px;top:288px;font:normal 23.3px/30px 'Liberation Sans', sans-serif;color:#b4bfd3;transform:scaleX(1.0387);-webkit-text-stroke:0.99px #b4bfd3;">Minted</span>
<span class="t" style="left:786.45px;top:339px;font:normal 23.3px/30px 'Liberation Sans', sans-serif;color:#232324;transform:scaleX(0.9144);-webkit-text-stroke:0.39px #232324;">WETH</span>
<span class="t" style="left:923.07px;top:339px;font:normal 23.3px/30px 'Liberation Sans', sans-serif;color:#9e9ea9;transform:scaleX(0.9949);-webkit-text-stroke:0.99px #9e9ea9;">0.004</span>
<span class="t" style="left:1043.47px;top:339px;font:normal 23.3px/30px 'Liberation Sans', sans-serif;color:#d8392e;transform:scaleX(0.9221);-webkit-text-stroke:0.99px #d8392e;">-</span>
<span class="t" style="left:1054.46px;top:339px;font:normal 23.3px/30px 'Liberation Sans', sans-serif;color:#232324;transform:scaleX(0.9827);-webkit-text-stroke:0.39px #232324;">$6.7094</span>
<div class="clip" style="left:1195.70px;top:339px;width:48.60px;height:30px"><span class="t" style="left:1.74px;top:0;font:bold 23.3px/30px 'Liberation Sans', sans-serif;color:#232324;transform:scaleX(0.9283);">Univ</span></div>
<span class="t" style="left:765.86px;top:440px;font:normal 23.6px/31px 'Liberation Sans', sans-serif;color:#232324;transform:scaleX(0.9782);-webkit-text-stroke:0.39px #232324;">0xdfc14d...ae044f</span>
<span class="t" style="left:1152.09px;top:440px;font:bold 23.5px/31px 'Liberation Sans', sans-serif;color:#2bbf8a;transform:scaleX(1.0099);">$0.1823</span>
<span class="t" style="left:752.57px;top:509px;font:normal 23.3px/30px 'Liberation Sans', sans-serif;color:#9e9ea9;transform:scaleX(0.9957);-webkit-text-stroke:0.39px #9e9ea9;">Token</span>
<span class="t" style="left:923.36px;top:509px;font:normal 23.3px/30px 'Liberation Sans', sans-serif;color:#9e9ea9;transform:scaleX(0.9878);-webkit-text-stroke:0.39px #9e9ea9;">Amount</span>
<span class="t" style="left:1043.48px;top:509px;font:normal 23.3px/30px 'Liberation Sans', sans-serif;color:#9e9ea9;transform:scaleX(0.9599);-webkit-text-stroke:0.39px #9e9ea9;">Change</span>
<span class="t" style="left:1164.62px;top:509px;font:normal 23.3px/30px 'Liberation Sans', sans-serif;color:#9e9ea9;transform:scaleX(0.9904);-webkit-text-stroke:0.39px #9e9ea9;">From</span>
<span class="t" style="left:786.45px;top:560px;font:normal 23.3px/30px 'Liberation Sans', sans-serif;color:#232324;transform:scaleX(0.9144);-webkit-text-stroke:0.39px #232324;">WETH</span>
<span class="t" style="left:923.07px;top:560px;font:normal 23.3px/30px 'Liberation Sans', sans-serif;color:#9e9ea9;transform:scaleX(0.9949);-webkit-text-stroke:0.99px #9e9ea9;">0.004</span>
<span class="t" style="left:1043.99px;top:562px;font:normal 21.8px/28px 'Liberation Sans', sans-serif;color:#2bbf8a;transform:scaleX(0.9757);-webkit-text-stroke:0.93px #2bbf8a;">+</span>
<span class="t" style="left:1060.96px;top:560px;font:normal 23.3px/30px 'Liberation Sans', sans-serif;color:#232324;transform:scaleX(0.9839);-webkit-text-stroke:0.39px #232324;">$6.7094</span>
<div class="clip" style="left:1195.70px;top:560px;width:48.60px;height:30px"><span class="t" style="left:1.74px;top:0;font:bold 23.3px/30px 'Liberation Sans', sans-serif;color:#232324;transform:scaleX(0.9283);">Univ</span></div>
<span class="t" style="left:785.86px;top:611px;font:normal 23.3px/30px 'Liberation Sans', sans-serif;color:#232324;transform:scaleX(0.9239);-webkit-text-stroke:0.39px #232324;">AAVE</span>
<span class="t" style="left:923.06px;top:611px;font:normal 23.3px/30px 'Liberation Sans', sans-serif;color:#9e9ea9;transform:scaleX(1.0223);-webkit-text-stroke:0.99px #9e9ea9;">0.1143</span>
<span class="t" style="left:1043.47px;top:611px;font:normal 23.3px/30px 'Liberation Sans', sans-serif;color:#d8392e;transform:scaleX(0.9221);-webkit-text-stroke:0.99px #d8392e;">-</span>
<span class="t" style="left:1054.46px;top:611px;font:normal 23.3px/30px 'Liberation Sans', sans-serif;color:#232324;transform:scaleX(0.9648);-webkit-text-stroke:0.39px #232324;">$6.5271</span>
<div class="clip" style="left:1195.70px;top:611px;width:48.60px;height:30px"><span class="t" style="left:1.77px;top:0;font:bold 23.3px/30px 'Liberation Sans', sans-serif;color:#232324;transform:scaleX(0.9076);">Unis</span></div>
<span class="t" style="left:765.88px;top:711px;font:normal 23.6px/31px 'Liberation Sans', sans-serif;color:#232324;transform:scaleX(0.9591);-webkit-text-stroke:0.39px #232324;">0xe8e695...ab3ae2</span>
<span class="t" style="left:1152.09px;top:711px;font:bold 23.5px/31px 'Liberation Sans', sans-serif;color:#2bbf8a;transform:scaleX(1.0074);">$6.5271</span>
<span class="t" style="left:752.57px;top:781px;font:normal 23.3px/30px 'Liberation Sans', sans-serif;color:#9e9ea9;transform:scaleX(0.9957);-webkit-text-stroke:0.39px #9e9ea9;">Token</span>
<span class="t" style="left:923.36px;top:781px;font:normal 23.3px/30px 'Liberation Sans', sans-serif;color:#9e9ea9;transform:scaleX(0.9878);-webkit-text-stroke:0.39px #9e9ea9;">Amount</span>
<span class="t" style="left:1043.48px;top:781px;font:normal 23.3px/30px 'Liberation Sans', sans-serif;color:#9e9ea9;transform:scaleX(0.9599);-webkit-text-stroke:0.39px #9e9ea9;">Change</span>
<span class="t" style="left:1164.62px;top:781px;font:normal 23.3px/30px 'Liberation Sans', sans-serif;color:#9e9ea9;transform:scaleX(0.9904);-webkit-text-stroke:0.39px #9e9ea9;">From</span>
<span class="t" style="left:785.86px;top:832px;font:normal 23.3px/30px 'Liberation Sans', sans-serif;color:#232324;transform:scaleX(0.9239);-webkit-text-stroke:0.39px #232324;">AAVE</span>
<span class="t" style="left:923.06px;top:832px;font:normal 23.3px/30px 'Liberation Sans', sans-serif;color:#9e9ea9;transform:scaleX(1.0223);-webkit-text-stroke:0.99px #9e9ea9;">0.1143</span>
<span class="t" style="left:1043.99px;top:834px;font:normal 21.8px/28px 'Liberation Sans', sans-serif;color:#2bbf8a;transform:scaleX(0.9757);-webkit-text-stroke:0.93px #2bbf8a;">+</span>
<span class="t" style="left:1060.96px;top:832px;font:normal 23.3px/30px 'Liberation Sans', sans-serif;color:#232324;transform:scaleX(0.9612);-webkit-text-stroke:0.39px #232324;">$6.5271</span>
<div class="clip" style="left:1195.70px;top:832px;width:48.60px;height:30px"><span class="t" style="left:1.77px;top:0;font:bold 23.3px/30px 'Liberation Sans', sans-serif;color:#232324;transform:scaleX(0.9076);">Unis</span></div>
<span class="t" style="left:890.63px;top:936px;font:normal 19.6px/25px 'Liberation Sans', sans-serif;color:#6f7488;transform:scaleX(1.0034);-webkit-text-stroke:0.33px #6f7488;">Powered</span>
<span class="t" style="left:972.87px;top:936px;font:normal 19.6px/25px 'Liberation Sans', sans-serif;color:#6f7488;transform:scaleX(0.9438);-webkit-text-stroke:0.33px #6f7488;">by</span>
<span class="t" style="left:1025.66px;top:940px;font:bold 12.4px/16px 'Liberation Sans', sans-serif;color:#141414;transform:scaleX(1.1008);">tenderly</span>
</div>
</div>
</body></html>
